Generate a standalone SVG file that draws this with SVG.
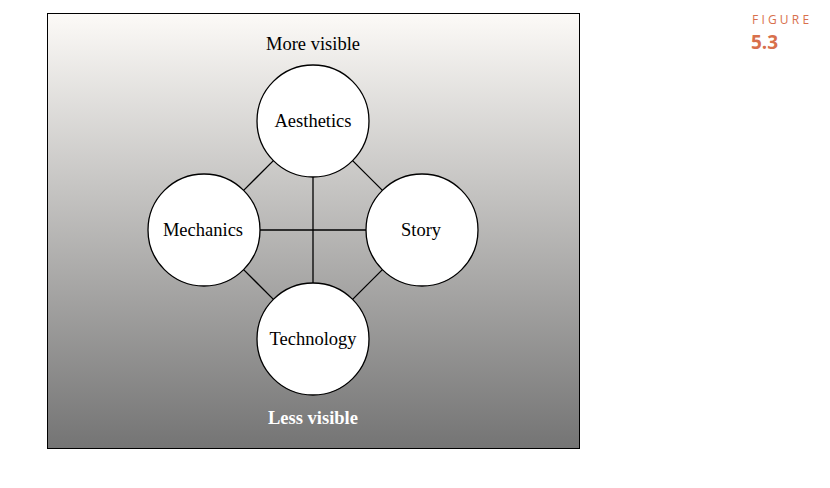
<svg xmlns="http://www.w3.org/2000/svg" width="830" height="488" viewBox="0 0 830 488">
<defs>
<linearGradient id="bg" x1="0" y1="0" x2="0" y2="1">
<stop offset="0" stop-color="#fcfaf7"/>
<stop offset="1" stop-color="#747474"/>
</linearGradient>
<style>
.node circle{fill:#fff;stroke:#000;stroke-width:1.3}
.node text{font-family:"Liberation Serif",serif;font-size:18.5px;text-anchor:middle;fill:#000}
.edge line{stroke:#000;stroke-width:1.3}
.cap{font-family:"Liberation Serif",serif;font-size:18.5px;text-anchor:middle}
.fig{font-family:"Open Sans","Liberation Sans",sans-serif;fill:#d8704c}
</style>
</defs>
<rect x="0" y="0" width="830" height="488" fill="#fff"/>
<rect x="47.5" y="13.5" width="532" height="435" fill="url(#bg)" stroke="#000" stroke-width="1"/>
<text class="cap" x="313" y="50" fill="#000">More visible</text>
<text class="cap" x="313" y="424" fill="#fff" font-weight="bold">Less visible</text>
<g id="connectors" class="edge">
<line x1="313" y1="177" x2="313" y2="283"/>
<line x1="260" y1="230" x2="367" y2="230"/>
<line x1="273.4" y1="160.6" x2="243.6" y2="190.4"/>
<line x1="352.6" y1="160.6" x2="382.4" y2="190.4"/>
<line x1="243.6" y1="269.6" x2="273.4" y2="299.4"/>
<line x1="382.4" y1="269.6" x2="352.6" y2="299.4"/>
</g>
<g id="aesthetics" class="node"><circle cx="313" cy="121" r="56"/><text x="313" y="127">Aesthetics</text></g>
<g id="mechanics" class="node"><circle cx="204" cy="230" r="56"/><text x="203" y="236">Mechanics</text></g>
<g id="story" class="node"><circle cx="422" cy="230" r="56"/><text x="421" y="236">Story</text></g>
<g id="technology" class="node"><circle cx="313" cy="339" r="56"/><text x="313" y="345">Technology</text></g>
<text class="fig" x="752" y="24" font-size="12" letter-spacing="3.2">FIGURE</text>
<text class="fig" x="751" y="49" font-size="19" font-weight="bold">5.3</text>
</svg>
